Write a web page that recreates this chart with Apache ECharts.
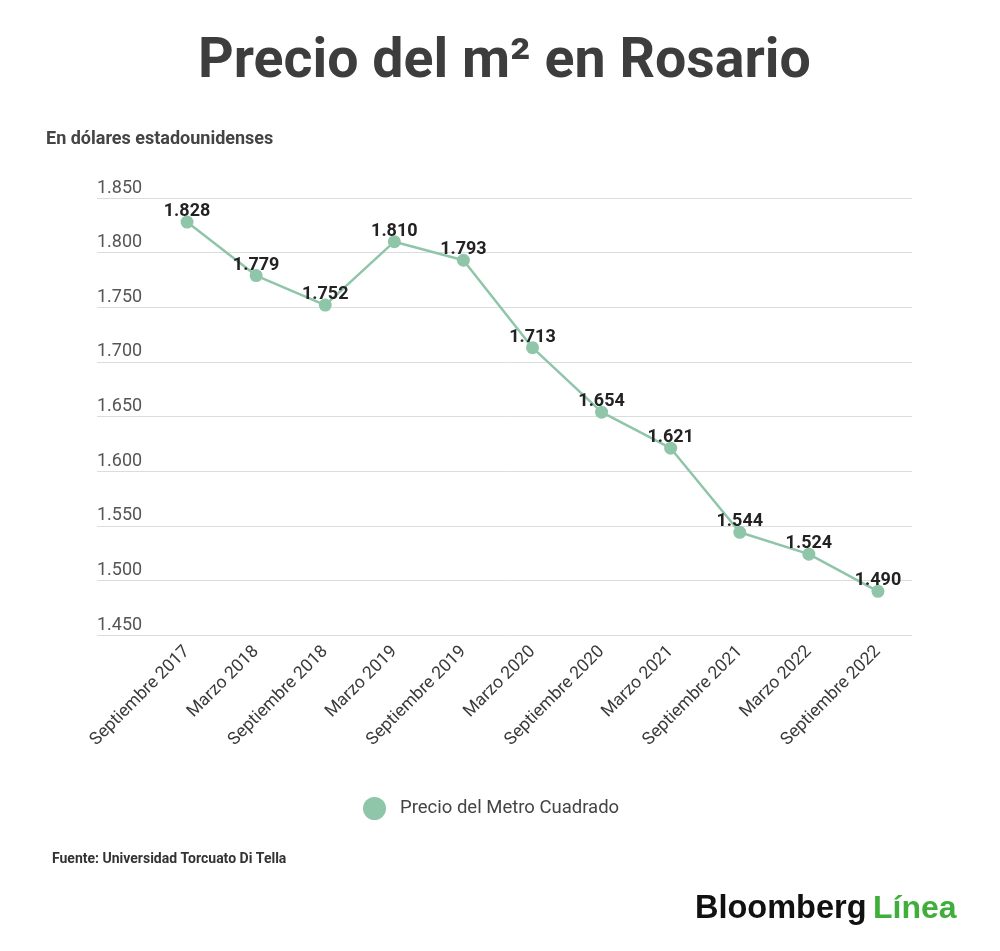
<!DOCTYPE html>
<html><head><meta charset="utf-8">
<script src="https://cdn.jsdelivr.net/npm/echarts@6/dist/echarts.min.js"></script>
<style>html,body{margin:0;padding:0;background:#fff}#c{width:1000px;height:951px}</style>
</head><body><div id="c"></div>
<script>
const categories = ["Septiembre 2017","Marzo 2018","Septiembre 2018","Marzo 2019","Septiembre 2019","Marzo 2020","Septiembre 2020","Marzo 2021","Septiembre 2021","Marzo 2022","Septiembre 2022"];
const precio = [1828,1779,1752,1810,1793,1713,1654,1621,1544,1524,1490];
const yMin = 1450, yMax = 1850, yStep = 50;
const seriesName = "Precio del Metro Cuadrado";

const fmt = v => { const s = String(Math.round(v)); return s.length > 3 ? s.slice(0, s.length-3) + '.' + s.slice(-3) : s; };
const FONT = 'Roboto';
const green = '#8fc5a9';

const chart = echarts.init(document.getElementById('c'), null, {renderer:'canvas'});
chart.setOption({
  backgroundColor:'#fff',
  textStyle:{fontFamily:FONT},
  animation:false,
  title:[
    {text:'Precio del m² en Rosario', left:193, top:30,
     textStyle:{fontFamily:FONT, fontSize:55.5, fontWeight:'bold', color:'#3d3d3d'}},
    {text:'En dólares estadounidenses', left:41, top:125,
     textStyle:{fontFamily:FONT, fontSize:18, fontWeight:'bold', color:'#444'}},
    {text:'Fuente: Universidad Torcuato Di Tella', left:47, top:847,
     textStyle:{fontFamily:FONT, fontSize:14, fontWeight:'bold', color:'#333'}}
  ],
  legend:{data:[seriesName], left:358, top:792, icon:'circle', itemWidth:23, itemHeight:23, itemGap:10,
    textStyle:{fontFamily:FONT, fontSize:18.5, color:'#444', padding:[0,0,0,9]}},
  grid:[
    {left:97, right:88, top:198, bottom:316},
    {left:152.5, right:87.5, top:198, bottom:316}
  ],
  xAxis:[
    {gridIndex:0, type:'category', data:categories, show:false},
    {gridIndex:1, type:'category', data:categories, boundaryGap:true,
     axisLine:{show:false}, axisTick:{show:false},
     axisLabel:{interval:0, rotate:45, margin:14, fontFamily:FONT, fontSize:17.5, color:'#3a3a3a'}}
  ],
  yAxis:[
    {gridIndex:0, type:'value', min:yMin, max:yMax, interval:yStep,
     axisLine:{show:false}, axisTick:{show:false},
     splitLine:{lineStyle:{color:'#dcdcdc', width:1}},
     axisLabel:{inside:true, margin:0, verticalAlign:'bottom', padding:[0,0,1,0],
       fontFamily:FONT, fontSize:18, color:'#555', formatter:fmt}},
    {gridIndex:1, type:'value', min:yMin, max:yMax, interval:yStep, show:false, splitLine:{show:false}}
  ],
  series:[{
    name:seriesName, type:'line', xAxisIndex:1, yAxisIndex:1, data:precio,
    symbol:'circle', symbolSize:13, color:green,
    lineStyle:{color:green, width:2.5}, itemStyle:{color:green},
    label:{show:true, position:'top', distance:-5, formatter:p=>fmt(p.value),
      fontFamily:FONT, fontSize:18, fontWeight:'bold', color:'#222'}
  }],
  graphic:[
    {type:'text', left:695, top:893,
     style:{text:'Bloomberg', fontFamily:'Liberation Sans', fontSize:32.5, fontWeight:'bold', fill:'#111'}},
    {type:'text', left:873, top:893,
     style:{text:'Línea', fontFamily:'Liberation Sans', fontSize:32, fontWeight:'bold', fill:'#3fae3b'}}
  ]
});
</script></body></html>
